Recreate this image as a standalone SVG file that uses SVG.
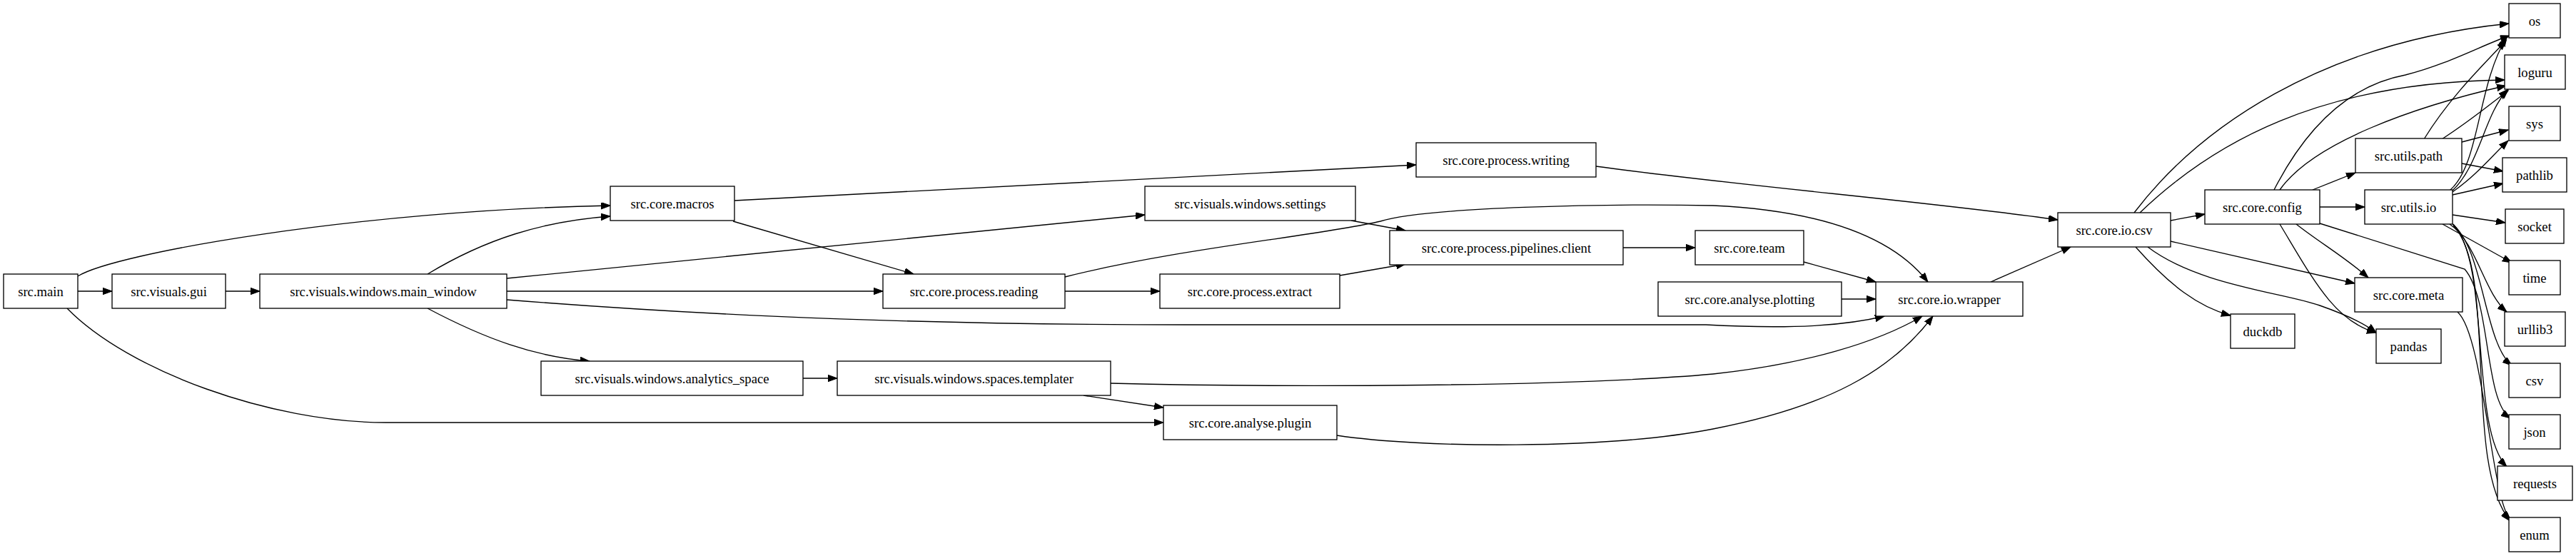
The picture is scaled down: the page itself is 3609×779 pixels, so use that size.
<svg xmlns="http://www.w3.org/2000/svg" width="3609" height="779" viewBox="0 0 3609 779">
<style>
.n rect{fill:#fff;stroke:#000;stroke-width:1.33}
.n text{font-family:"Liberation Serif",serif;font-size:18.67px;text-anchor:middle;dominant-baseline:central;fill:#000}
#edges path{fill:none;stroke:#000;stroke-width:1.33;marker-end:url(#ah)}
</style>
<defs><marker id="ah" markerUnits="userSpaceOnUse" markerWidth="14" markerHeight="10" refX="13" refY="4.7" orient="auto"><path d="M0,0 L13,4.7 L0,9.4 z" fill="#000" stroke="#000"/></marker></defs>
<rect width="3609" height="779" fill="#fff"/>
<g id="edges">
<path d="M109,408 L157,408"/>
<path d="M109,387 C160,355 500,295 855,288"/>
<path d="M94,432 C180,520 380,592 540,592 L1630,592"/>
<path d="M316,408 L364,408"/>
<path d="M599,384 C680,335 760,310 855,303"/>
<path d="M710,390 L1604,301"/>
<path d="M710,408 L1237,408"/>
<path d="M710,420 C900,435 1200,455 1660,455 L2390,455 C2520,462 2590,455 2640,443"/>
<path d="M599,432 C680,475 750,500 826,506"/>
<path d="M1029,281 L1984,231"/>
<path d="M1027,310 L1280,384"/>
<path d="M1492,408 L1625,408"/>
<path d="M1492,388 C1650,348 1850,330 1934,310 C2000,290 2250,285 2400,288 C2550,295 2650,330 2701,395"/>
<path d="M1893,309 L1969,323"/>
<path d="M1877,386 L1969,370"/>
<path d="M2274,347 L2375,347"/>
<path d="M2527,367 L2628,395"/>
<path d="M2580,419 L2628,419"/>
<path d="M1125,530 L1173,530"/>
<path d="M1556,537 C1800,543 2200,542 2400,524 C2530,510 2630,480 2693,443"/>
<path d="M1518,554 L1630,571"/>
<path d="M1873,610 C1990,628 2250,630 2400,601 C2560,570 2650,520 2708,443"/>
<path d="M2236,233 C2450,262 2700,282 2883,308"/>
<path d="M2789,395 L2901,346"/>
<path d="M3041,309 L3089,300"/>
<path d="M2990,298 C3080,180 3250,60 3515,33"/>
<path d="M2998,298 C3100,200 3250,115 3509,112"/>
<path d="M2992,346 C3040,400 3080,430 3125,442"/>
<path d="M3041,338 L3299,397"/>
<path d="M3009,346 C3080,400 3200,410 3250,428 C3290,442 3315,455 3329,466"/>
<path d="M3186,266 C3230,180 3290,120 3370,105 C3430,90 3480,62 3516,50"/>
<path d="M3194,266 C3240,200 3380,150 3511,120"/>
<path d="M3240,266 L3300,242"/>
<path d="M3250,290 L3313,290"/>
<path d="M3217,314 C3250,340 3285,360 3318,389"/>
<path d="M3194,314 C3240,390 3270,450 3329,466"/>
<path d="M3250,313 L3453,377 C3490,420 3480,560 3517,586"/>
<path d="M3443,437 C3480,470 3490,700 3517,728"/>
<path d="M3396,195 C3430,140 3470,100 3511,57"/>
<path d="M3421,195 C3460,170 3490,145 3514,127"/>
<path d="M3449,199 L3514,182"/>
<path d="M3449,229 L3507,240"/>
<path d="M3432,267 C3475,230 3470,120 3512,52"/>
<path d="M3436,267 C3475,230 3480,160 3514,125"/>
<path d="M3436,269 C3470,245 3490,220 3514,197"/>
<path d="M3436,273 L3507,257"/>
<path d="M3436,301 L3510,312"/>
<path d="M3422,314 L3519,368"/>
<path d="M3432,314 C3470,340 3480,410 3512,437"/>
<path d="M3436,314 C3480,350 3480,480 3519,512"/>
<path d="M3437,314 C3490,370 3460,600 3512,654"/>
<path d="M3437,316 C3500,380 3450,650 3517,730"/>
</g>
<g id="n_main" class="n"><rect x="5" y="384" width="104" height="48"/><text x="57" y="408">src.main</text></g>
<g id="n_gui" class="n"><rect x="157" y="384" width="159" height="48"/><text x="236.5" y="408">src.visuals.gui</text></g>
<g id="n_mw" class="n"><rect x="364" y="384" width="346" height="48"/><text x="537" y="408">src.visuals.windows.main_window</text></g>
<g id="n_macros" class="n"><rect x="855" y="261" width="174" height="48"/><text x="942" y="285">src.core.macros</text></g>
<g id="n_analytics" class="n"><rect x="758" y="506" width="367" height="48"/><text x="941.5" y="530">src.visuals.windows.analytics_space</text></g>
<g id="n_templater" class="n"><rect x="1173" y="506" width="383" height="48"/><text x="1364.5" y="530">src.visuals.windows.spaces.templater</text></g>
<g id="n_writing" class="n"><rect x="1984" y="200" width="252" height="48"/><text x="2110" y="224">src.core.process.writing</text></g>
<g id="n_settings" class="n"><rect x="1604" y="261" width="295" height="48"/><text x="1751.5" y="285">src.visuals.windows.settings</text></g>
<g id="n_pipelines" class="n"><rect x="1947" y="323" width="327" height="48"/><text x="2110.5" y="347">src.core.process.pipelines.client</text></g>
<g id="n_team" class="n"><rect x="2375" y="323" width="152" height="48"/><text x="2451" y="347">src.core.team</text></g>
<g id="n_reading" class="n"><rect x="1237" y="384" width="255" height="48"/><text x="1364.5" y="408">src.core.process.reading</text></g>
<g id="n_extract" class="n"><rect x="1625" y="384" width="252" height="48"/><text x="1751" y="408">src.core.process.extract</text></g>
<g id="n_plotting" class="n"><rect x="2323" y="395" width="257" height="48"/><text x="2451.5" y="419">src.core.analyse.plotting</text></g>
<g id="n_wrapper" class="n"><rect x="2628" y="395" width="206" height="48"/><text x="2731" y="419">src.core.io.wrapper</text></g>
<g id="n_plugin" class="n"><rect x="1630" y="568" width="243" height="48"/><text x="1751.5" y="592">src.core.analyse.plugin</text></g>
<g id="n_iocsv" class="n"><rect x="2883" y="298" width="158" height="48"/><text x="2962" y="322">src.core.io.csv</text></g>
<g id="n_config" class="n"><rect x="3089" y="266" width="161" height="48"/><text x="3169.5" y="290">src.core.config</text></g>
<g id="n_upath" class="n"><rect x="3300" y="194" width="149" height="48"/><text x="3374.5" y="218">src.utils.path</text></g>
<g id="n_uio" class="n"><rect x="3313" y="266" width="123" height="48"/><text x="3374.5" y="290">src.utils.io</text></g>
<g id="n_meta" class="n"><rect x="3299" y="389" width="151" height="48"/><text x="3374.5" y="413">src.core.meta</text></g>
<g id="n_duckdb" class="n"><rect x="3125" y="440" width="90" height="48"/><text x="3170" y="464">duckdb</text></g>
<g id="n_pandas" class="n"><rect x="3329" y="461" width="91" height="48"/><text x="3374.5" y="485">pandas</text></g>
<g id="n_os" class="n"><rect x="3515" y="5" width="72" height="48"/><text x="3551" y="29">os</text></g>
<g id="n_loguru" class="n"><rect x="3509" y="77" width="85" height="48"/><text x="3551.5" y="101">loguru</text></g>
<g id="n_sys" class="n"><rect x="3515" y="149" width="72" height="48"/><text x="3551" y="173">sys</text></g>
<g id="n_pathlib" class="n"><rect x="3506" y="221" width="90" height="48"/><text x="3551" y="245">pathlib</text></g>
<g id="n_socket" class="n"><rect x="3510" y="293" width="82" height="48"/><text x="3551" y="317">socket</text></g>
<g id="n_time" class="n"><rect x="3515" y="365" width="72" height="48"/><text x="3551" y="389">time</text></g>
<g id="n_urllib3" class="n"><rect x="3509" y="437" width="85" height="48"/><text x="3551.5" y="461">urllib3</text></g>
<g id="n_csv" class="n"><rect x="3515" y="509" width="72" height="48"/><text x="3551" y="533">csv</text></g>
<g id="n_json" class="n"><rect x="3515" y="581" width="72" height="48"/><text x="3551" y="605">json</text></g>
<g id="n_requests" class="n"><rect x="3499" y="653" width="105" height="48"/><text x="3551.5" y="677">requests</text></g>
<g id="n_enum" class="n"><rect x="3515" y="725" width="72" height="48"/><text x="3551" y="749">enum</text></g>
</svg>
